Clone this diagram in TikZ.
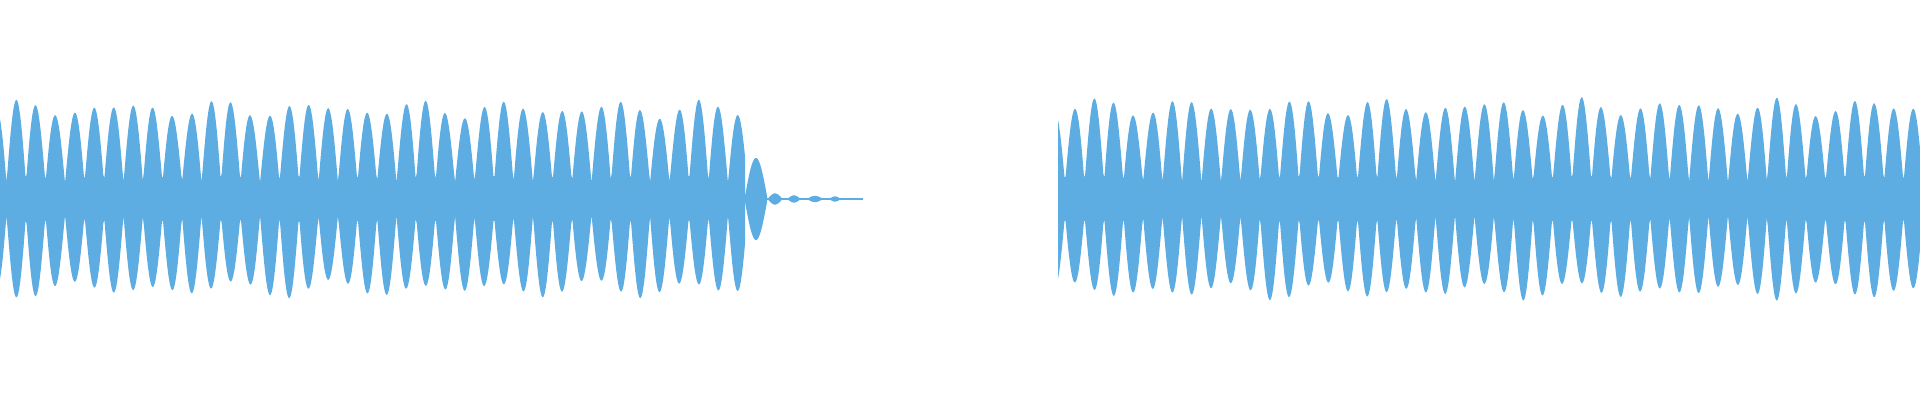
\documentclass[tikz,border=0pt]{standalone}
\definecolor{wave}{HTML}{5DADE2}
\begin{document}
\begin{tikzpicture}[x=1pt,y=1pt]
\useasboundingbox (0,0) rectangle (1920,400);
% segment 1
\fill[wave] plot[domain=0:745,samples=700] (\x,{201+16+(74+6*sin(3.7*\x)+4*sin(5.3*\x))*abs(sin(9.2308*(\x-611)))})
 -- plot[domain=745:0,samples=700] (\x,{201-16-(74+6*sin(4.1*\x)+4*sin(2.9*\x))*abs(sin(9.2308*(\x-611)))}) -- cycle;
% last lobe
\fill[wave] plot[domain=745:767,samples=40] (\x,{201+3+38*sin(180*(\x-745)/22)})
 -- plot[domain=767:745,samples=40] (\x,{201-3-38*sin(180*(\x-745)/22)}) -- cycle;
% ripples
\foreach \a/\b/\h in {768/782/5,788/800/3,808/822/2.5,830/840/2} {
 \fill[wave] plot[domain=\a:\b,samples=20] (\x,{201+0.6+\h*sin(180*(\x-\a)/(\b-\a))})
 -- plot[domain=\b:\a,samples=20] (\x,{201-0.6-\h*sin(180*(\x-\a)/(\b-\a))}) -- cycle;
}
\fill[wave] (745,200.4) rectangle (863,201.6);
% segment 2
\fill[wave] plot[domain=1058:1920,samples=800] (\x,{201+16+(76+6*sin(3.7*\x)+4*sin(5.3*\x))*abs(sin(9.2308*(\x-1065)))})
 -- plot[domain=1920:1058,samples=800] (\x,{201-16-(76+6*sin(4.3*\x)+4*sin(2.9*\x))*abs(sin(9.2308*(\x-1065)))}) -- cycle;
\end{tikzpicture}
\end{document}
